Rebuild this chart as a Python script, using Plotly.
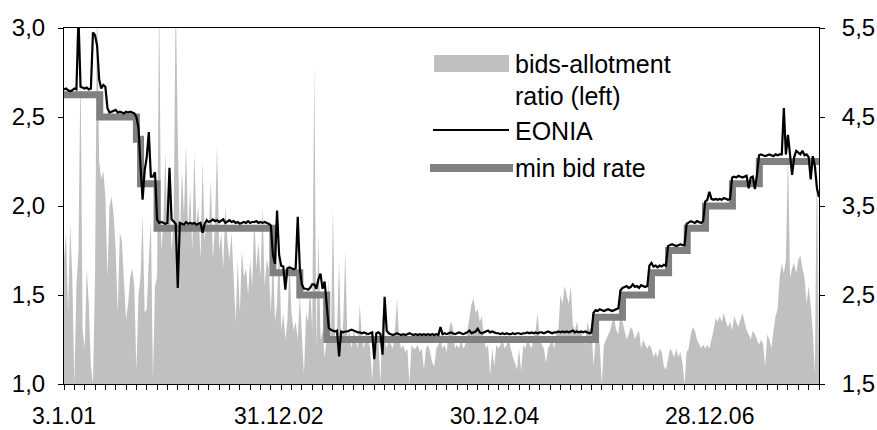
import pandas as pd
import plotly.graph_objects as go

# ---------------- data ----------------
START_DATE = "2001-01-03"          # first weekly main refinancing operation
N_WEEKS = 366

TICK_DATES = ["2001-01-03", "2002-12-31", "2004-12-30", "2006-12-28"]
TICK_LABELS = ["3.1.01", "31.12.02", "30.12.04", "28.12.06"]

# bids-allotment ratio (left axis), weekly
BID_RATIO = [
    1.70, 1.85, 1.40, 1.90, 1.60, 1.00, 1.55, 1.75, 2.80, 1.30,
    1.20, 1.65, 1.45, 1.10, 1.00, 1.60, 3.20, 2.25, 2.15, 2.20,
    2.05, 1.60, 2.00, 2.05, 1.95, 1.75, 1.40, 1.85, 1.80, 1.55,
    1.36, 1.45, 1.60, 1.65, 1.55, 1.07, 1.50, 1.60, 1.95, 1.40,
    1.42, 1.70, 1.92, 1.02, 1.55, 1.60, 3.20, 1.75, 1.90, 2.30,
    1.85, 2.10, 1.75, 1.90, 3.20, 2.40, 1.80, 2.20, 1.95, 2.35,
    1.85, 2.10, 1.75, 2.30, 1.90, 2.00, 1.70, 2.25, 1.80, 1.95,
    1.85, 2.15, 1.70, 1.90, 2.35, 1.75, 1.85, 1.65, 2.00, 1.80,
    1.70, 1.85, 1.60, 1.35, 1.70, 1.40, 1.75, 1.60, 1.65, 1.50,
    1.70, 1.55, 1.95, 1.65, 1.80, 1.60, 2.00, 1.55, 1.70, 1.65,
    1.40, 1.75, 1.35, 1.45, 1.80, 1.30, 1.40, 1.25, 1.35, 1.70,
    1.40, 1.30, 1.35, 1.25, 1.50, 1.30, 1.05, 1.40, 1.35, 1.55,
    1.30, 2.80, 1.20, 1.85, 1.25, 1.30, 1.15, 1.25, 1.60, 1.20,
    2.00, 1.25, 1.30, 1.70, 1.20, 1.35, 1.75, 1.25, 1.30, 1.20,
    1.30, 1.25, 1.20, 1.45, 1.25, 1.20, 1.30, 1.25, 1.20, 1.02,
    1.25, 1.20, 1.25, 1.00, 1.40, 1.25, 1.20, 1.25, 1.22, 1.20,
    1.30, 1.48, 1.25, 1.20, 1.22, 1.18, 1.20, 1.00, 1.22, 1.20,
    1.20, 1.22, 1.18, 1.20, 1.08, 1.20, 1.22, 1.18, 1.12, 1.10,
    1.20, 1.22, 1.25, 1.20, 1.22, 1.18, 1.30, 1.35, 1.32, 1.20,
    1.22, 1.20, 1.25, 1.20, 1.22, 1.30, 1.38, 1.45, 1.48, 1.40,
    1.42, 1.35, 1.38, 1.25, 1.20, 1.22, 1.05, 1.20, 1.10, 1.22,
    1.20, 1.22, 1.25, 1.20, 1.22, 1.25, 1.20, 1.15, 1.12, 1.08,
    1.20, 1.07, 1.22, 1.20, 1.25, 1.22, 1.20, 1.25, 1.30, 1.40,
    1.25, 1.22, 1.20, 1.12, 1.20, 1.22, 1.25, 1.20, 1.28, 1.30,
    1.50, 1.45, 1.55, 1.50, 1.45, 1.55, 1.33, 1.30, 1.35, 1.28,
    1.30, 1.25, 1.22, 1.35, 1.30, 1.32, 1.10, 1.25, 1.28, 1.22,
    1.00, 1.22, 1.25, 1.28, 1.30, 1.35, 1.37, 1.30, 1.28, 1.40,
    1.35, 1.30, 1.25, 1.28, 1.32, 1.30, 1.25, 1.28, 1.30, 1.20,
    1.25, 1.22, 1.20, 1.22, 1.20, 1.15, 1.18, 1.15, 1.20, 1.18,
    1.10, 1.08, 1.15, 1.20, 1.18, 1.15, 1.20, 1.15, 1.18, 1.12,
    1.00, 1.18, 1.20, 1.28, 1.32, 1.30, 1.25, 1.22, 1.20, 1.22,
    1.20, 1.22, 1.20, 1.25, 1.30, 1.37, 1.35, 1.38, 1.35, 1.40,
    1.35, 1.32, 1.35, 1.30, 1.38, 1.35, 1.32, 1.36, 1.40, 1.35,
    1.30, 1.28, 1.25, 1.30, 1.28, 1.25, 1.22, 1.25, 1.22, 1.10,
    1.28, 1.25, 1.20, 1.30, 1.38, 1.42, 1.60, 1.68, 1.62, 1.70,
    2.30, 1.60, 1.65, 1.68, 1.62, 1.70, 1.72, 1.65, 1.60, 1.45,
    1.55, 1.44, 1.30, 1.05, 2.30, 1.10,
]

# EONIA (right axis), weekly
EONIA = [
    4.81, 4.82, 4.80, 4.79, 4.80, 4.82, 4.81, 5.62, 4.84, 4.83,
    4.82, 4.83, 4.81, 4.82, 5.45, 5.42, 5.30, 4.92, 4.82, 4.86,
    4.84, 4.60, 4.55, 4.56, 4.57, 4.58, 4.55, 4.56, 4.55, 4.54,
    4.56, 4.55, 4.56, 4.55, 4.54, 4.50, 4.38, 3.95, 3.57, 3.90,
    4.05, 4.33, 3.83, 3.83, 3.88, 3.35, 3.31, 3.32, 3.31, 3.30,
    3.31, 3.93, 3.35, 3.33, 3.30, 2.58, 3.31, 3.30, 3.29, 3.32,
    3.30, 3.31, 3.30, 3.31, 3.29, 3.30, 3.31, 3.20, 3.30, 3.34,
    3.32, 3.33, 3.35, 3.33, 3.34, 3.32, 3.34, 3.35, 3.31, 3.33,
    3.34, 3.32, 3.33, 3.31, 3.32, 3.30, 3.31, 3.32, 3.31, 3.33,
    3.31, 3.32, 3.32, 3.33, 3.31, 3.32, 3.31, 3.32, 3.31, 3.30,
    3.28, 2.95, 2.85, 3.45, 2.95, 2.83, 2.82, 2.56, 2.80, 2.81,
    2.80, 2.79, 2.80, 3.38, 2.80, 2.62, 2.57, 2.57, 2.56, 2.58,
    2.62, 2.62, 2.57, 2.68, 2.74, 2.57, 2.65, 2.40, 2.13, 2.11,
    2.10, 2.09, 2.10, 1.81, 2.09, 2.08, 2.09, 2.09, 2.10, 2.11,
    2.10, 2.09, 2.08, 2.08, 2.07, 2.08, 2.07, 2.06, 2.07, 2.08,
    1.78, 2.07, 2.08, 2.06, 1.83, 2.48, 2.10, 2.07, 2.06, 2.05,
    2.06, 2.07, 2.06, 2.05, 2.06, 2.05, 2.06, 2.07, 2.06, 2.05,
    2.06, 2.05, 2.06, 2.05, 2.06, 2.05, 2.06, 2.05, 2.06, 2.05,
    2.06, 2.05, 2.14, 2.06, 2.07, 2.06, 2.07, 2.08, 2.07, 2.06,
    2.07, 2.08, 2.07, 2.06, 2.07, 2.08, 2.10, 2.07, 2.08, 2.09,
    2.12, 2.08, 2.07, 2.08, 2.09, 2.10, 2.08, 2.09, 2.08, 2.07,
    2.07, 2.06, 2.07, 2.06, 2.07, 2.06, 2.06, 2.07, 2.06, 2.07,
    2.07, 2.06, 2.07, 2.07, 2.08, 2.07, 2.08, 2.07, 2.08, 2.07,
    2.08, 2.08, 2.07, 2.08, 2.09, 2.08, 2.07, 2.08, 2.08, 2.09,
    2.08, 2.09, 2.08, 2.09, 2.08, 2.09, 2.10, 2.08, 2.09, 2.08,
    2.09, 2.08, 2.09, 2.08, 2.07, 2.08,
    2.30, 2.33, 2.32, 2.34, 2.33, 2.32, 2.33, 2.34, 2.33, 2.32,
    2.33, 2.34, 2.35, 2.55,
    2.58, 2.59, 2.60, 2.58, 2.59, 2.62, 2.59, 2.60, 2.58, 2.61, 2.60, 2.59, 2.60,
    2.83, 2.86, 2.82, 2.83, 2.81, 2.83, 2.82, 2.84, 2.83,
    3.05, 3.06, 3.07, 3.06, 3.05, 3.06, 3.07, 3.06, 3.06,
    3.30, 3.32, 3.33, 3.32, 3.31, 3.33, 3.32, 3.31, 3.33,
    3.55, 3.57, 3.66, 3.58, 3.57, 3.58, 3.57, 3.58, 3.57, 3.59, 3.58, 3.57, 3.58,
    3.82, 3.83, 3.82, 3.84, 3.83, 3.82, 3.83, 3.84, 3.70, 3.82, 3.83, 3.69, 3.85,
    4.07, 4.08, 4.07, 4.06, 4.07, 4.08, 4.07, 4.06, 4.08, 4.07, 4.08,
    4.08, 4.60, 4.08, 4.30, 4.10, 3.85, 4.05, 4.12, 4.10, 4.08, 4.12, 4.07,
    4.08, 4.05, 3.80, 4.06, 3.95, 3.70, 3.60,
]

# ECB minimum bid rate (right axis): dates of change and new level
MBR_DATES = ["2001-01-03", "2001-05-04", "2001-09-05", "2001-09-19", "2001-11-14",
             "2002-12-11", "2003-03-12", "2003-06-11", "2005-12-07", "2006-03-08",
             "2006-06-14", "2006-08-11", "2006-10-13", "2006-12-14", "2007-03-15",
             "2007-06-14", "2008-01-02"]
MBR_VALUES = [4.75, 4.50, 4.25, 3.75, 3.25, 2.75, 2.50, 2.00, 2.25, 2.50,
              2.75, 3.00, 3.25, 3.50, 3.75, 4.00, 4.00]

LEGEND_LABELS = ["bids-allotment", "ratio (left)", "EONIA", "min bid rate"]

# ---------------- figure ----------------
weeks = pd.date_range(START_DATE, periods=N_WEEKS, freq="7D")

FONT = "Liberation Sans, Arial, sans-serif"
W, H = 877, 430
ML, MR, MT, MB = 64, 58, 28, 46
PW, PH = W - ML - MR, H - MT - MB


def px(x):
    return (x - ML) / PW


def py(y):
    return (H - MB - y) / PH


fig = go.Figure()
fig.add_trace(go.Scatter(
    x=weeks, y=BID_RATIO, mode="lines", fill="tozeroy",
    line=dict(width=0, color="#c0c0c0"), fillcolor="#c0c0c0",
    yaxis="y", showlegend=False, hoverinfo="skip"))
fig.add_trace(go.Scatter(
    x=MBR_DATES, y=MBR_VALUES, mode="lines", line_shape="hv",
    line=dict(width=7, color="#808080"), yaxis="y2", showlegend=False))
fig.add_trace(go.Scatter(
    x=weeks, y=EONIA, mode="lines",
    line=dict(width=2.2, color="#000000"), yaxis="y2", showlegend=False))

# manual legend
shapes = [
    dict(type="rect", xref="paper", yref="paper", x0=px(434), x1=px(509),
         y0=py(72), y1=py(55), fillcolor="#c0c0c0", line=dict(width=0)),
    dict(type="line", xref="paper", yref="paper", x0=px(433), x1=px(509),
         y0=py(130), y1=py(130), line=dict(color="#000000", width=2)),
    dict(type="line", xref="paper", yref="paper", x0=px(430), x1=px(513),
         y0=py(168), y1=py(168), line=dict(color="#808080", width=8)),
]
ann_y = [63.5, 95.5, 130.5, 168]
annotations = [
    dict(text=t, xref="paper", yref="paper", x=px(513), y=py(yy),
         xanchor="left", yanchor="middle", showarrow=False,
         font=dict(family=FONT, size=25, color="#000000"))
    for t, yy in zip(LEGEND_LABELS, ann_y)
]

fig.update_layout(
    width=W, height=H,
    margin=dict(l=ML, r=MR, t=MT, b=MB, pad=0, autoexpand=False),
    paper_bgcolor="white", plot_bgcolor="white",
    separators=",.",
    showlegend=False,
    font=dict(family=FONT, size=24, color="#000000"),
    shapes=shapes, annotations=annotations,
    xaxis=dict(
        type="date", range=[weeks[0], weeks[-1]], automargin=False,
        tickmode="array", tickvals=TICK_DATES, ticktext=TICK_LABELS,
        ticks="outside", ticklen=5, tickcolor="rgba(0,0,0,0)",
        ticklabelstandoff=6,
        showline=True, linecolor="#000000", linewidth=1, mirror=True,
        showgrid=False, zeroline=False,
        tickfont=dict(family=FONT, size=23, color="#000000"),
        minor=dict(ticks="outside", ticklen=5, tickcolor="#000000", tickwidth=1,
                   tick0=START_DATE, dtick=35 * 86400000, showgrid=False),
    ),
    yaxis=dict(
        range=[1, 3], tickvals=[1.0, 1.5, 2.0, 2.5, 3.0], tickformat=".1f",
        automargin=False,
        ticks="outside", ticklen=5, tickcolor="#000000",
        ticklabelstandoff=8,
        showline=True, linecolor="#000000", linewidth=1,
        showgrid=False, zeroline=False,
        tickfont=dict(family=FONT, size=24, color="#000000"),
    ),
    yaxis2=dict(
        range=[1.5, 5.5], tickvals=[1.5, 2.5, 3.5, 4.5, 5.5], tickformat=".1f",
        overlaying="y", side="right", automargin=False,
        ticks="outside", ticklen=5, tickcolor="#000000",
        ticklabelstandoff=12,
        showline=True, linecolor="#000000", linewidth=1,
        showgrid=False, zeroline=False,
        tickfont=dict(family=FONT, size=24, color="#000000"),
    ),
)

fig.write_html(
    "out.html",
    config={"displayModeBar": False},
    post_script="document.body.style.margin='0';document.body.style.padding='0';"
                "document.body.style.overflow='hidden';",
)
